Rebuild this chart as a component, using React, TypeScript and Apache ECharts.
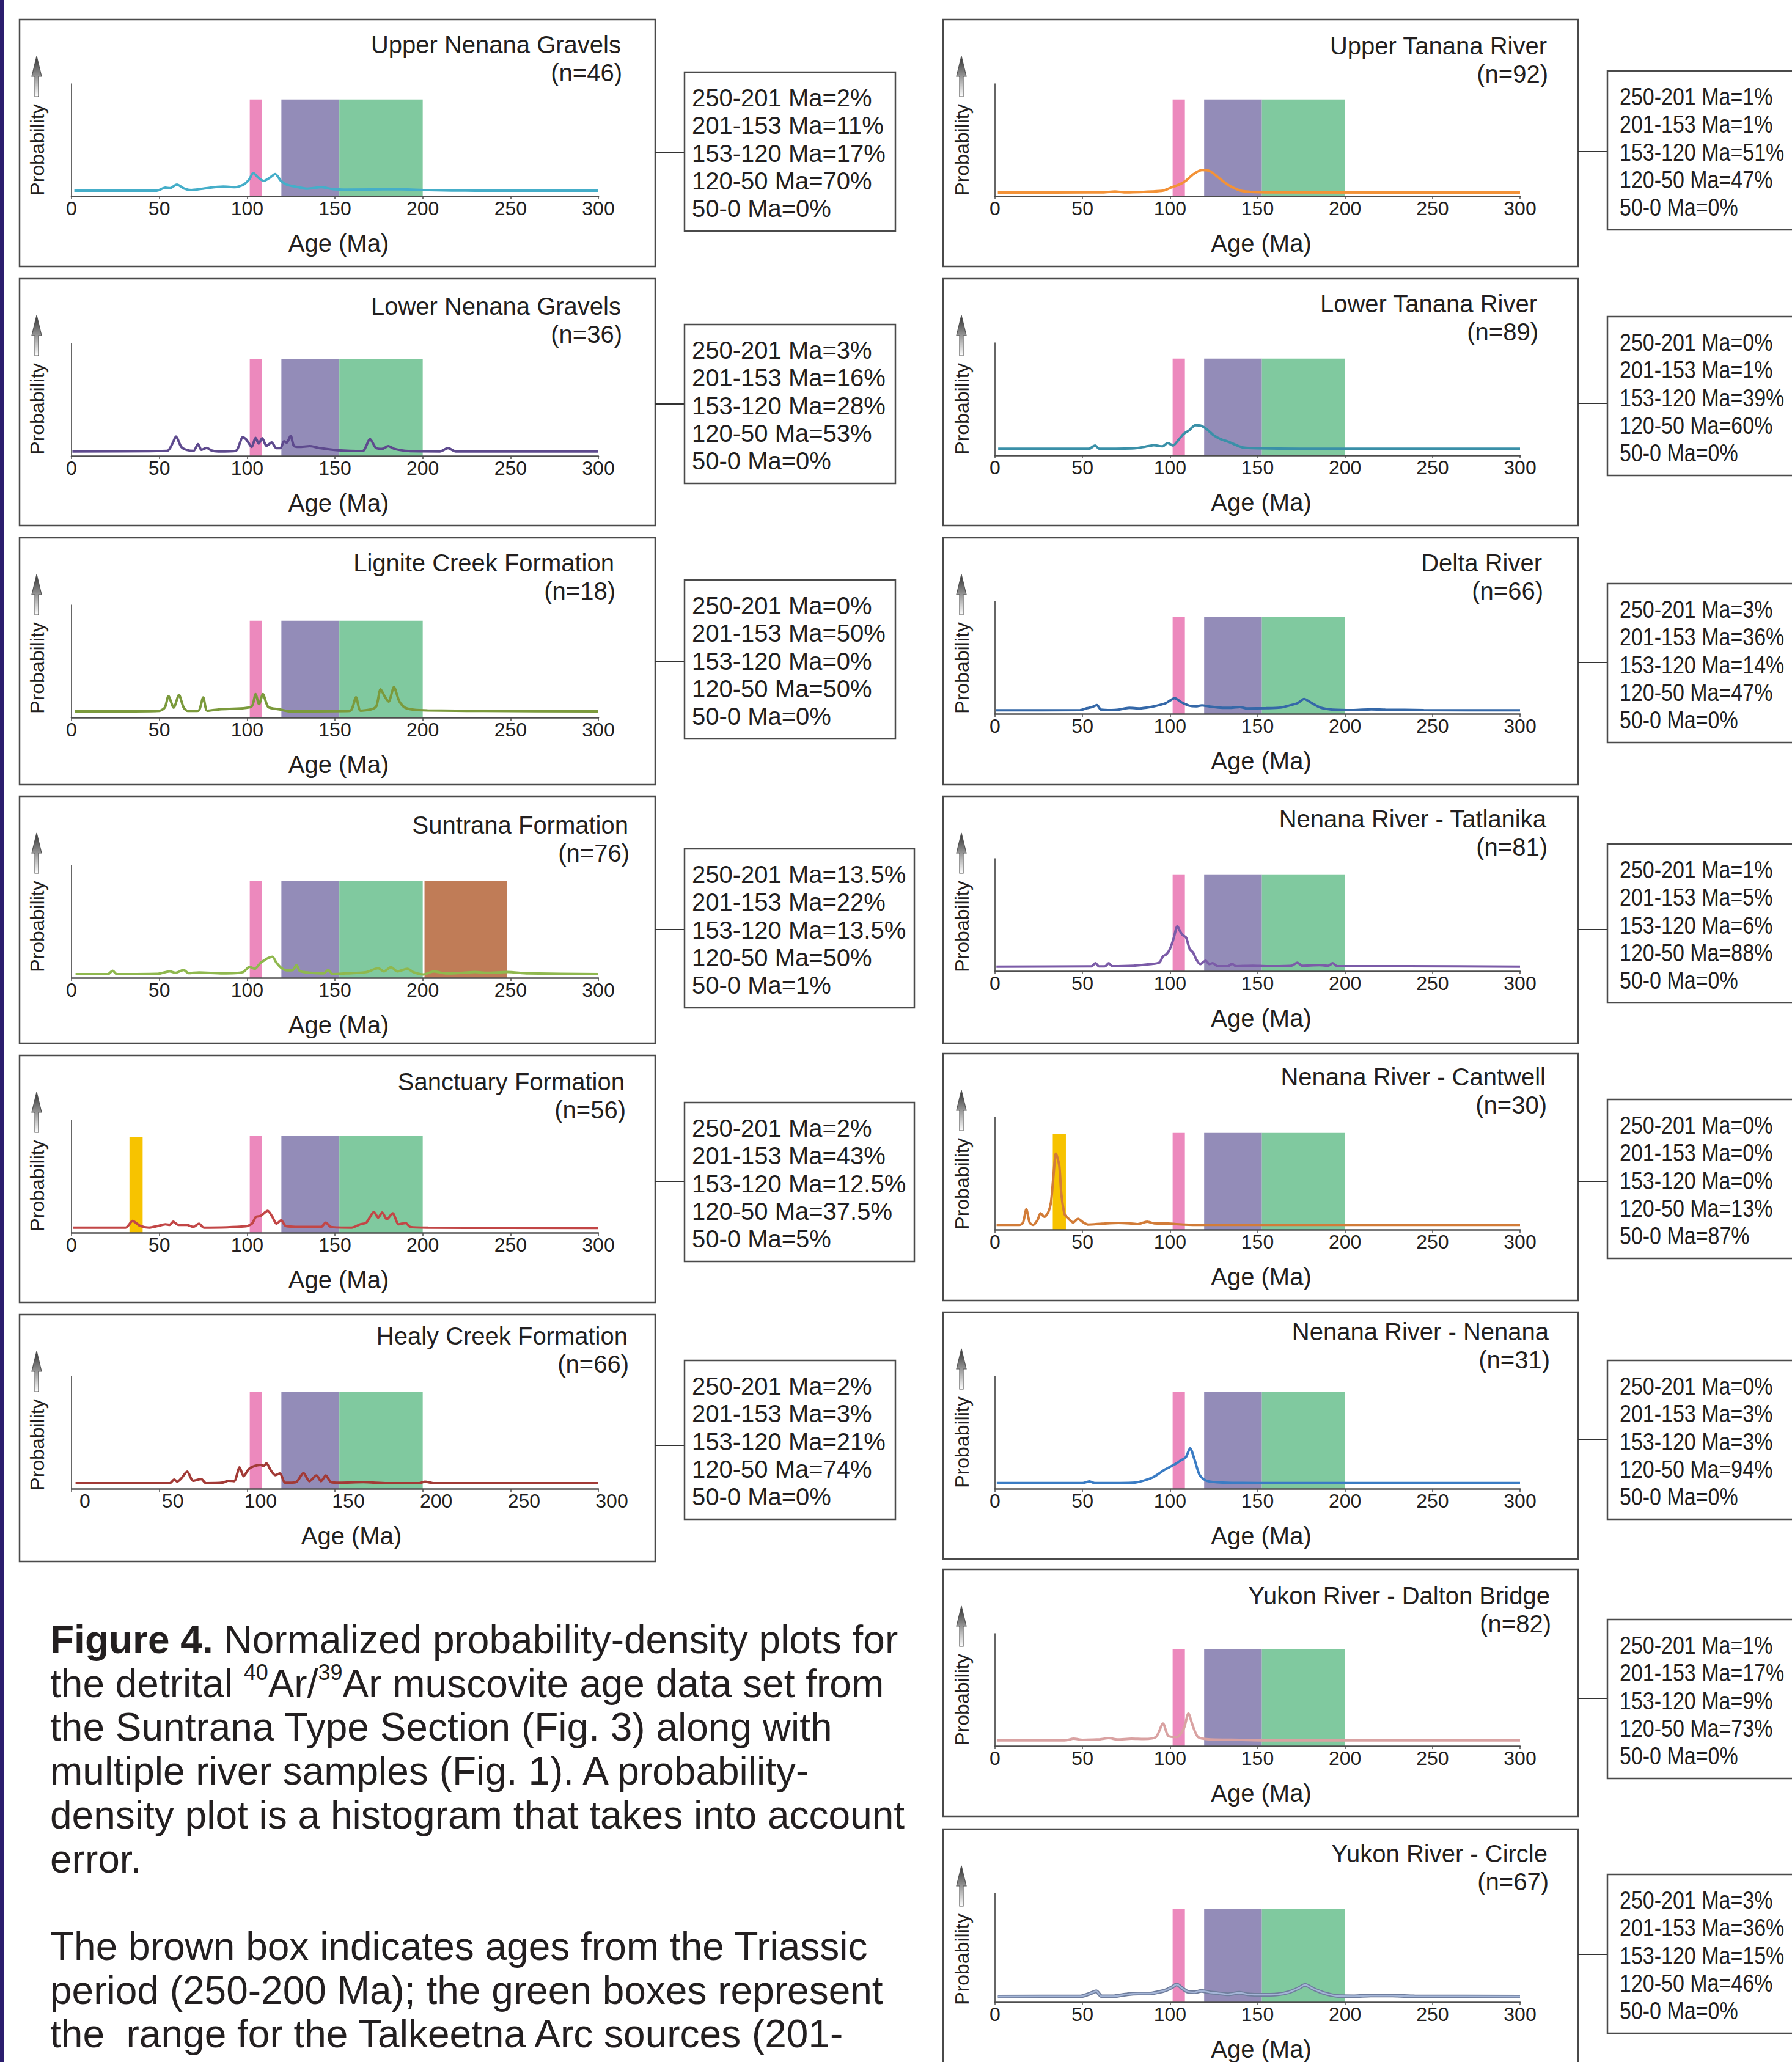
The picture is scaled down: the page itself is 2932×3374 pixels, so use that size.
import React, { useEffect, useRef } from "react";
import * as echarts from "echarts";

// ---------------- DATA ----------------
const rangeLabels = ["250-201 Ma", "201-153 Ma", "153-120 Ma", "120-50 Ma", "50-0 Ma"];

const pinkBox = [101.5, 108.5];
const purpleBox = [119.5, 152.5];
const greenBox = [152.5, 200];
const brownBox = [201, 248];
const yellowBox = [33, 40.5];

// probability curves: [age (Ma), relative probability]
const upperNenanaGravels = [[1.6,0.049],[48.5,0.049],[53.4,0.076],[56,0.072],[60,0.103],[64.3,0.067],[68.2,0.054],[74.8,0.067],[86.4,0.085],[93,0.08],[98,0.103],[101.2,0.149],[103.5,0.207],[106.2,0.167],[109.5,0.136],[112.8,0.163],[116,0.197],[119.4,0.134],[122.6,0.103],[127.6,0.085],[134.2,0.067],[142.4,0.08],[149,0.062],[157.3,0.058],[183.6,0.062],[203.4,0.054],[229.8,0.049],[300,0.049]];
const lowerNenanaGravels = [[0.5,0.04],[54.5,0.045],[57.5,0.11],[59.5,0.172],[62.5,0.08],[65.5,0.054],[69.5,0.045],[72,0.105],[74,0.054],[77,0.072],[79.5,0.05],[83.5,0.04],[93.5,0.045],[97.6,0.167],[99.6,0.145],[102.6,0.08],[104.8,0.16],[106.6,0.11],[108.6,0.158],[111,0.09],[114,0.12],[116.6,0.069],[119,0.069],[121,0.13],[122.6,0.118],[124.8,0.18],[126.6,0.09],[129.7,0.08],[135.7,0.087],[141.7,0.069],[151.7,0.05],[165.7,0.043],[170,0.149],[173.3,0.072],[176.8,0.063],[180.4,0.087],[183.8,0.063],[191.8,0.043],[209.8,0.04],[214.4,0.069],[218.8,0.04],[300,0.04]];
const ligniteCreek = [[2,0.054],[50,0.058],[53.2,0.09],[55.2,0.19],[58.2,0.087],[61.2,0.2],[63.8,0.09],[66.2,0.058],[72.2,0.06],[75,0.178],[77.3,0.06],[84.3,0.072],[102.3,0.094],[104.8,0.208],[106.8,0.118],[109,0.208],[112,0.094],[118.4,0.072],[124.4,0.054],[158.5,0.058],[162,0.18],[164.6,0.06],[170.6,0.072],[173.6,0.1],[176,0.25],[178.6,0.18],[180.6,0.14],[183.6,0.27],[186.6,0.145],[189.6,0.09],[194.7,0.069],[202.7,0.062],[234.8,0.058],[300,0.054]];
const suntrana = [[2.3,0.033],[20.7,0.033],[23.4,0.063],[25.8,0.033],[49.2,0.036],[55.9,0.057],[59.2,0.045],[63.9,0.069],[66.6,0.042],[72.6,0.048],[86,0.039],[97.7,0.051],[101.3,0.098],[104.3,0.08],[107.7,0.134],[110,0.158],[112,0.176],[114.4,0.188],[116.7,0.134],[119.4,0.089],[122.7,0.066],[126,0.069],[128.1,0.113],[130.1,0.06],[136.1,0.045],[143.5,0.039],[146.2,0.069],[148.8,0.033],[156.2,0.039],[167.9,0.051],[174.6,0.086],[177.9,0.057],[181.9,0.095],[185.6,0.057],[191.3,0.08],[194.6,0.051],[200.3,0.03],[206.4,0.057],[213,0.039],[223,0.045],[229.8,0.051],[236.5,0.045],[248.2,0.051],[260,0.039],[300,0.033]];
const sanctuary = [[0.7,0.045],[30.8,0.045],[34.8,0.104],[39.1,0.06],[44.1,0.045],[49.2,0.06],[53.5,0.075],[55.9,0.069],[57.9,0.098],[60.9,0.069],[65.9,0.069],[69.2,0.051],[72.6,0.08],[75.3,0.045],[99.3,0.057],[102.7,0.08],[105,0.14],[107.7,0.149],[111.7,0.194],[114.4,0.14],[116.7,0.08],[119.4,0.11],[122,0.06],[132.8,0.051],[142.1,0.051],[144.8,0.089],[147.8,0.051],[159.5,0.045],[164.5,0.075],[167.9,0.089],[172.2,0.185],[174.6,0.134],[176.9,0.179],[179.6,0.119],[182.9,0.173],[186.3,0.075],[190.3,0.086],[193,0.051],[203,0.045],[300,0.042]];
const healyCreek = [[2.3,0.049],[55.9,0.049],[58.5,0.082],[60.2,0.063],[62.5,0.092],[65.9,0.152],[69.2,0.071],[73.9,0.085],[76.6,0.049],[86,0.054],[89.3,0.071],[92.6,0.067],[95.7,0.19],[98,0.112],[101,0.176],[104.3,0.203],[107.7,0.212],[109.4,0.203],[111,0.225],[113.7,0.158],[116,0.121],[118.7,0.136],[121.7,0.053],[127.8,0.058],[132.1,0.14],[135.5,0.067],[139.5,0.118],[142.1,0.067],[144.8,0.118],[147.8,0.058],[152.8,0.053],[166.2,0.058],[179.6,0.049],[198,0.049],[201.3,0.063],[206.4,0.049],[300,0.049]];
const upperTanana = [[1.6,0.033],[61.7,0.034],[68.6,0.042],[74.2,0.034],[89.9,0.042],[96.1,0.05],[100.8,0.078],[105.5,0.105],[109.3,0.141],[113.4,0.196],[118.1,0.232],[122.8,0.223],[127.5,0.168],[133.7,0.096],[140,0.051],[146.3,0.038],[158.8,0.034],[300,0.033]];
const lowerTanana = [[1.8,0.058],[53.6,0.058],[57.2,0.087],[59.6,0.058],[79.7,0.062],[85.7,0.076],[90.7,0.09],[95.7,0.08],[98.7,0.109],[101.7,0.087],[104.8,0.136],[107.8,0.19],[110.8,0.22],[114.4,0.268],[117.8,0.263],[120.8,0.235],[124.8,0.18],[128.8,0.145],[133.8,0.118],[137.9,0.09],[141.9,0.069],[149.9,0.062],[174,0.058],[300,0.058]];
const deltaRiver = [[0.4,0.031],[48.6,0.033],[52.6,0.05],[55.6,0.06],[58.2,0.077],[60.6,0.037],[66.6,0.033],[70.6,0.037],[76.7,0.053],[82.7,0.048],[88.7,0.06],[93.7,0.077],[97.7,0.095],[102.7,0.139],[106.8,0.1],[110.8,0.073],[114.8,0.066],[118.2,0.075],[122.8,0.064],[128.8,0.055],[134.9,0.053],[139.9,0.06],[143.9,0.048],[154.9,0.05],[163,0.055],[169,0.077],[173,0.095],[176.6,0.132],[181,0.095],[186,0.055],[193,0.037],[205,0.033],[215,0.04],[223,0.037],[245,0.033],[300,0.031]];
const tatlanika = [[0.8,0.04],[55,0.042],[57.4,0.07],[59.4,0.042],[63,0.044],[65,0.07],[67,0.044],[79,0.048],[89,0.062],[94,0.077],[96,0.132],[98,0.15],[100,0.198],[102,0.287],[104.2,0.4],[105.8,0.353],[107.2,0.32],[109.2,0.298],[111.2,0.198],[113.2,0.165],[114.8,0.11],[117.2,0.062],[120.4,0.093],[122.4,0.062],[124.4,0.07],[127.2,0.044],[133.3,0.044],[135.3,0.066],[137.7,0.044],[147.3,0.048],[155.3,0.044],[169.4,0.048],[172.8,0.075],[175.4,0.048],[185.4,0.053],[190.4,0.048],[193,0.07],[195.5,0.044],[235.6,0.044],[300,0.04]];
const cantwell = [[0.9,0.042],[14.1,0.042],[16,0.063],[17.9,0.181],[19.8,0.063],[21.7,0.042],[24.2,0.082],[26,0.145],[28.2,0.114],[30.4,0.154],[32,0.245],[33.3,0.462],[34.8,0.676],[36.7,0.571],[37.9,0.317],[39.8,0.136],[42.4,0.091],[44.6,0.063],[47.4,0.096],[50.2,0.067],[53.3,0.045],[61.2,0.053],[70.6,0.06],[76.9,0.056],[81.6,0.049],[86.9,0.071],[91,0.056],[98.8,0.054],[108.3,0.045],[117.7,0.042],[300,0.042]];
const nenana = [[1,0.05],[50,0.05],[54,0.065],[57,0.05],[80,0.055],[90,0.1],[97,0.17],[103,0.22],[106,0.25],[109,0.28],[111.5,0.36],[114,0.26],[117,0.12],[121,0.07],[130,0.055],[160,0.05],[300,0.05]];
const daltonBridge = [[1,0.05],[40,0.05],[45,0.065],[50,0.055],[60,0.06],[65,0.07],[70,0.058],[78,0.065],[85,0.062],[92,0.08],[96,0.2],[99,0.09],[104,0.08],[108,0.16],[110.5,0.29],[113,0.18],[116,0.08],[122,0.06],[140,0.055],[160,0.05],[300,0.05]];
const circle = [[1.6,0.051],[49,0.053],[52.2,0.067],[55.3,0.085],[57.8,0.1],[60.9,0.054],[67.8,0.054],[75.6,0.072],[81.9,0.078],[88.1,0.078],[92.8,0.09],[97.5,0.109],[101.3,0.139],[103.8,0.163],[106.9,0.127],[110,0.096],[114.1,0.09],[117.8,0.103],[122.5,0.09],[127.2,0.082],[133.4,0.072],[139.7,0.085],[144.4,0.072],[152.2,0.067],[161.6,0.072],[167.8,0.09],[173.4,0.127],[177.2,0.159],[181.9,0.121],[188.1,0.082],[196,0.056],[205.3,0.054],[214.7,0.06],[227.2,0.06],[239.7,0.053],[300,0.051]];

// age-range percentages (same order as rangeLabels)
const upperNenanaPct = [2, 11, 17, 70, 0];
const lowerNenanaPct = [3, 16, 28, 53, 0];
const ligniteCreekPct = [0, 50, 0, 50, 0];
const suntranaPct = [13.5, 22, 13.5, 50, 1];
const sanctuaryPct = [2, 43, 12.5, 37.5, 5];
const healyCreekPct = [2, 3, 21, 74, 0];
const upperTananaPct = [1, 1, 51, 47, 0];
const lowerTananaPct = [0, 1, 39, 60, 0];
const deltaRiverPct = [3, 36, 14, 47, 0];
const tatlanikaPct = [1, 5, 6, 88, 0];
const cantwellPct = [0, 0, 0, 13, 87];
const nenanaPct = [0, 3, 3, 94, 0];
const daltonBridgePct = [1, 17, 9, 73, 0];
const circlePct = [3, 36, 15, 46, 0];

const captionLines = [
  "{b|Figure 4.}{r| Normalized probability-density plots for}",
  "{r|the detrital }{s|40}{r|Ar/}{s|39}{r|Ar muscovite age data set from}",
  "{r|the Suntrana Type Section (Fig. 3) along with}",
  "{r|multiple river samples (Fig. 1). A probability-}",
  "{r|density plot is a histogram that takes into account}",
  "{r|error.}",
  "",
  "{r|The brown box indicates ages from the Triassic}",
  "{r|period (250-200 Ma); the green boxes represent}",
  "{r|the  range for the Talkeetna Arc sources (201-}",
];

// ---------------- STYLE / LAYOUT ----------------
const W = 2932;
const H = 3374;
const FONT = '"Liberation Sans", Arial, Helvetica, sans-serif';
const INK = "#231f20";
const PANEL_H = 404;
const GRID_H = 184;
const PINK = "#ec89bd";
const PURPLE = "#938cb8";
const GREEN = "#80c99f";
const BROWN = "#c07c57";
const YELLOW = "#f7c300";

const leftCol = { panelLeft: 32, panelW: 1040, gridLeft: 117, gridW: 862, boxLeft: 1120, textPad: 12, arrowDx: 28, textScale: 1 };
const rightCol = { panelLeft: 1543, panelW: 1039, gridLeft: 1628, gridW: 859, boxLeft: 2630, textPad: 20, arrowDx: 30, textScale: 0.85 };

const baseBoxes = [
  { range: pinkBox, color: PINK, top: 0.86 },
  { range: purpleBox, color: PURPLE, top: 0.86 },
  { range: greenBox, color: GREEN, top: 0.86 },
];

const panels = [
  { col: leftCol, top: 32, axisY: 321, titleDy: 41, titleRight: 1016, boxDy: 86, boxW: 345, connDy: 218, shift: 0, title: "Upper Nenana Gravels", n: 46, pct: upperNenanaPct, data: upperNenanaGravels, color: "#45aec9", extra: [] as any[] },
  { col: leftCol, top: 456, axisY: 746, titleDy: 45, titleRight: 1016, boxDy: 75, boxW: 345, connDy: 205, shift: 0, title: "Lower Nenana Gravels", n: 36, pct: lowerNenanaPct, data: lowerNenanaGravels, color: "#5e4a8e", extra: [] },
  { col: leftCol, top: 880, axisY: 1174, titleDy: 41, titleRight: 1005, boxDy: 69, boxW: 345, connDy: 202, shift: 0, title: "Lignite Creek Formation", n: 18, pct: ligniteCreekPct, data: ligniteCreek, color: "#7b9a3c", extra: [] },
  { col: leftCol, top: 1303, axisY: 1600, titleDy: 47, titleRight: 1028, boxDy: 86, boxW: 376, connDy: 218, shift: 0, title: "Suntrana Formation", n: 76, pct: suntranaPct, data: suntrana, color: "#8fb84e", extra: [{ range: brownBox, color: BROWN, top: 0.86 }] },
  { col: leftCol, top: 1727, axisY: 2017, titleDy: 43, titleRight: 1022, boxDy: 77, boxW: 376, connDy: 206, shift: 0, title: "Sanctuary Formation", n: 56, pct: sanctuaryPct, data: sanctuary, color: "#c24646", extra: [{ range: yellowBox, color: YELLOW, top: 0.85 }] },
  { col: leftCol, top: 2151, axisY: 2436, titleDy: 35, titleRight: 1027, boxDy: 75, boxW: 345, connDy: 214, shift: 22, title: "Healy Creek Formation", n: 66, pct: healyCreekPct, data: healyCreek, color: "#a23a36", extra: [] },
  { col: rightCol, top: 32, axisY: 321, titleDy: 43, titleRight: 2531, boxDy: 84, boxW: 400, connDy: 216, shift: 0, title: "Upper Tanana River", n: 92, pct: upperTananaPct, data: upperTanana, color: "#f39237", extra: [] },
  { col: rightCol, top: 456, axisY: 745, titleDy: 41, titleRight: 2515, boxDy: 62, boxW: 400, connDy: 204, shift: 0, title: "Lower Tanana River", n: 89, pct: lowerTananaPct, data: lowerTanana, color: "#3a90a8", extra: [] },
  { col: rightCol, top: 880, axisY: 1168, titleDy: 41, titleRight: 2523, boxDy: 75, boxW: 400, connDy: 204, shift: 0, title: "Delta River", n: 66, pct: deltaRiverPct, data: deltaRiver, color: "#3568a8", extra: [] },
  { col: rightCol, top: 1303, axisY: 1589, titleDy: 37, titleRight: 2530, boxDy: 78, boxW: 400, connDy: 218, shift: 0, title: "Nenana River - Tatlanika", n: 81, pct: tatlanikaPct, data: tatlanika, color: "#7b5ba8", extra: [] },
  { col: rightCol, top: 1724, axisY: 2012, titleDy: 38, titleRight: 2529, boxDy: 75, boxW: 400, connDy: 209, shift: 0, title: "Nenana River - Cantwell", n: 30, pct: cantwellPct, data: cantwell, color: "#d27c38", extra: [{ range: yellowBox, color: YELLOW, top: 0.85 }] },
  { col: rightCol, top: 2147, axisY: 2436, titleDy: 32, titleRight: 2534, boxDy: 79, boxW: 400, connDy: 208, shift: 0, title: "Nenana River - Nenana", n: 31, pct: nenanaPct, data: nenana, color: "#3a7cc4", extra: [] },
  { col: rightCol, top: 2568, axisY: 2857, titleDy: 43, titleRight: 2536, boxDy: 82, boxW: 400, connDy: 211, shift: 0, title: "Yukon River - Dalton Bridge", n: 82, pct: daltonBridgePct, data: daltonBridge, color: "#d9a2a2", extra: [] },
  { col: rightCol, top: 2993, axisY: 3282, titleDy: 40, titleRight: 2532, boxDy: 74, boxW: 400, connDy: 205, shift: 0, title: "Yukon River - Circle", n: 67, pct: circlePct, data: circle, color: "#a5b6d8", outline: "#6f7d9c", extra: [] },
];

function buildOption() {
  const grid: any[] = [];
  const xAxis: any[] = [];
  const yAxis: any[] = [];
  const series: any[] = [];
  const elements: any[] = [];

  elements.push({ type: "rect", shape: { x: 0, y: 0, width: 7, height: H }, style: { fill: "#2b1d6e" }, z: 10 });

  panels.forEach((p: any, i: number) => {
    const c = p.col;
    grid.push({ left: c.gridLeft, top: p.axisY - GRID_H, width: c.gridW, height: GRID_H });
    xAxis.push({
      gridIndex: i, type: "value", min: 0, max: 300, interval: 50, z: 4,
      axisLine: { show: true, onZero: false, lineStyle: { color: "#4d4d4d", width: 2.5 } },
      axisTick: { show: true, length: 5, lineStyle: { color: "#4d4d4d", width: 1.5 } },
      axisLabel: { fontSize: 32, fontFamily: FONT, color: INK, margin: 4, lineHeight: 32, padding: p.shift ? [0, 0, 0, p.shift * 2] : 0 },
      splitLine: { show: false },
      name: "Age (Ma)", nameLocation: "middle", nameGap: 57,
      nameTextStyle: { fontSize: 40, fontFamily: FONT, color: INK, lineHeight: 40, padding: p.shift ? [0, 0, 0, 54] : [0, 0, 0, 12] },
    });
    yAxis.push({
      gridIndex: i, type: "value", min: 0, max: 1, z: 4,
      axisLine: { show: true, onZero: false, lineStyle: { color: "#333", width: 1.5 } },
      axisTick: { show: false }, axisLabel: { show: false }, splitLine: { show: false },
    });
    const boxes = [...p.extra, ...baseBoxes];
    const markArea = {
      silent: true,
      data: boxes.map((b: any) => [
        { xAxis: b.range[0], yAxis: 0, itemStyle: { color: b.color, opacity: 1 } },
        { xAxis: b.range[1], yAxis: b.top },
      ]),
    };
    if (p.outline) {
      series.push({ type: "line", xAxisIndex: i, yAxisIndex: i, data: p.data, showSymbol: false, smooth: 0.25, silent: true, lineStyle: { color: p.outline, width: 6 }, markArea });
      series.push({ type: "line", xAxisIndex: i, yAxisIndex: i, data: p.data, showSymbol: false, smooth: 0.25, silent: true, lineStyle: { color: p.color, width: 2.5 } });
    } else {
      series.push({ type: "line", xAxisIndex: i, yAxisIndex: i, data: p.data, showSymbol: false, smooth: 0.25, silent: true, lineStyle: { color: p.color, width: 4 }, markArea });
    }

    // panel frame
    elements.push({ type: "rect", shape: { x: c.panelLeft, y: p.top, width: c.panelW, height: PANEL_H }, style: { fill: "none", stroke: "#4a4a4a", lineWidth: 2.5 } });
    // title & n
    elements.push({ type: "text", x: p.titleRight, y: p.top + p.titleDy, style: { text: p.title, fontSize: 40, fontFamily: FONT, fill: INK, align: "right", verticalAlign: "middle" } });
    elements.push({ type: "text", x: p.titleRight + 2, y: p.top + p.titleDy + 46, style: { text: `(n=${p.n})`, fontSize: 40, fontFamily: FONT, fill: INK, align: "right", verticalAlign: "middle" } });
    // arrow
    const ax = c.panelLeft + c.arrowDx;
    const tip = p.top + 60;
    elements.push({
      type: "polygon",
      shape: { points: [[ax, tip], [ax + 8, tip + 33], [ax + 3, tip + 33], [ax + 3, tip + 66], [ax - 3, tip + 66], [ax - 3, tip + 33], [ax - 8, tip + 33]] },
      style: {
        fill: new echarts.graphic.LinearGradient(0, 0, 0, 1, [{ offset: 0, color: "#2e2e2e" }, { offset: 1, color: "#ffffff" }]),
        stroke: "#555", lineWidth: 1.2,
      },
    });
    elements.push({ type: "text", x: ax + 1, y: p.top + 213, rotation: Math.PI / 2, style: { text: "Probability", fontSize: 32, fontFamily: FONT, fill: INK, align: "center", verticalAlign: "middle" } });
    // connector & percentage box
    const bTop = p.top + p.boxDy;
    elements.push({ type: "line", shape: { x1: c.panelLeft + c.panelW, y1: p.top + p.connDy, x2: c.boxLeft, y2: p.top + p.connDy }, style: { stroke: "#333", lineWidth: 2 } });
    elements.push({ type: "rect", shape: { x: c.boxLeft, y: bTop, width: p.boxW, height: 260 }, style: { fill: "#fff", stroke: "#4a4a4a", lineWidth: 2.5 } });
    p.pct.forEach((v: number, k: number) => {
      elements.push({ type: "text", x: c.boxLeft + c.textPad, y: bTop + 42 + k * 45.3, scaleX: c.textScale, style: { text: `${rangeLabels[k]}=${v}%`, fontSize: 40, fontFamily: FONT, fill: INK, align: "left", verticalAlign: "middle" } });
    });
  });

  captionLines.forEach((line, k) => {
    if (!line) return;
    elements.push({
      type: "text", x: 82, y: 2683 + k * 71.7,
      style: {
        text: line, fill: INK, fontSize: 64, fontFamily: FONT, align: "left", verticalAlign: "middle",
        rich: {
          b: { fontSize: 64, fontFamily: FONT, fontWeight: "bold", fill: INK, lineHeight: 72 },
          r: { fontSize: 64, fontFamily: FONT, fill: INK, lineHeight: 72 },
          s: { fontSize: 36, fontFamily: FONT, fill: INK, lineHeight: 40, verticalAlign: "top" },
        },
      },
    });
  });

  return {
    animation: false,
    backgroundColor: "#ffffff",
    grid, xAxis, yAxis, series,
    graphic: { elements },
  };
}

export default function App() {
  const ref = useRef<HTMLDivElement>(null);
  useEffect(() => {
    document.body.style.margin = "0";
    const chart = echarts.init(ref.current!, null, { renderer: "svg", width: W, height: H });
    chart.setOption(buildOption() as any);
    return () => chart.dispose();
  }, []);
  return <div ref={ref} style={{ position: "absolute", left: 0, top: 0, width: W, height: H, background: "#fff" }} />;
}
